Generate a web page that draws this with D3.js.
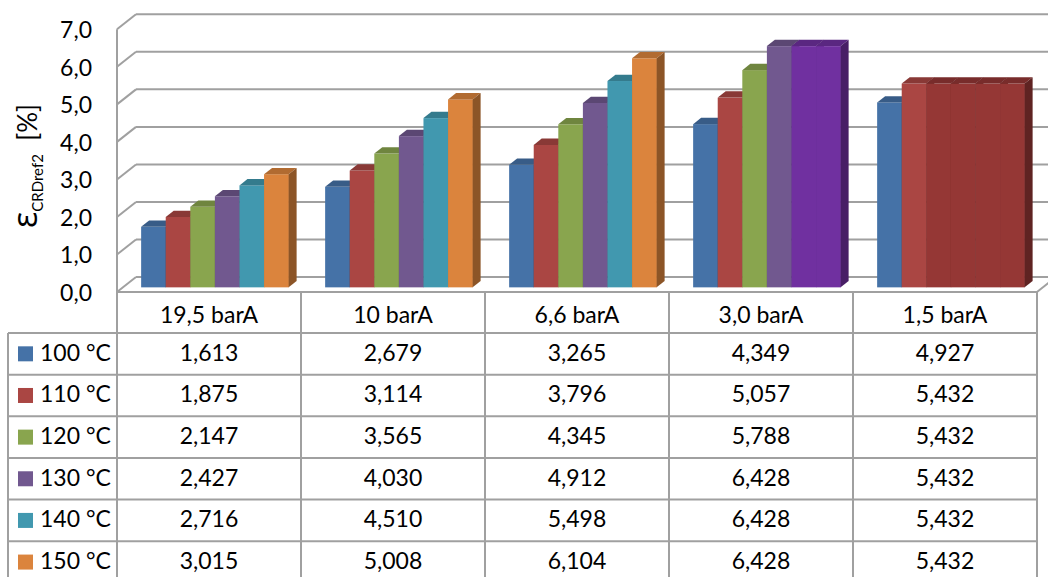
<!DOCTYPE html>
<html>
<head>
<meta charset="utf-8">
<script src="https://cdn.jsdelivr.net/npm/d3@7"></script>
<style>
  html, body { margin: 0; padding: 0; background: #fff; }
  svg { display: block; }
  text { font-family: Lato, "Open Sans", sans-serif; fill: #000; }
</style>
</head>
<body>
<svg id="chart" width="1048" height="577"></svg>
<script>
// Pressure levels (categories) and temperature series
const categories = ["19,5 barA", "10 barA", "6,6 barA", "3,0 barA", "1,5 barA"];
const seriesNames = ["100 °C", "110 °C", "120 °C", "130 °C", "140 °C", "150 °C"];

const v100 = [1.613, 2.679, 3.265, 4.349, 4.927];
const v110 = [1.875, 3.114, 3.796, 5.057, 5.432];
const v120 = [2.147, 3.565, 4.345, 5.788, 5.432];
const v130 = [2.427, 4.030, 4.912, 6.428, 5.432];
const v140 = [2.716, 4.510, 5.498, 6.428, 5.432];
const v150 = [3.015, 5.008, 6.104, 6.428, 5.432];
const seriesValues = [v100, v110, v120, v130, v140, v150];

const seriesColors = ["#4572A7", "#AA4643", "#89A54E", "#71588F", "#4198AF", "#DB843D"];
// individually recoloured points: [category, series, colour]
const pointColors = [
  ["3,0 barA", "140 °C", "#7030A0"],
  ["3,0 barA", "150 °C", "#7030A0"],
  ["1,5 barA", "120 °C", "#953735"],
  ["1,5 barA", "130 °C", "#953735"],
  ["1,5 barA", "140 °C", "#953735"],
  ["1,5 barA", "150 °C", "#953735"]
];

const yTicks = [0, 1, 2, 3, 4, 5, 6, 7];
const fmt = d3.format(".1f");
const fmt3 = d3.format(".3f");
const comma = s => s.replace(".", ",");

const svg = d3.select("#chart");

// front plane of the 3D box
const x = d3.scaleBand().domain(categories).range([117, 1037]);
const y = d3.scaleLinear().domain([0, 7]).range([292, 29.3]);
const inner = d3.scaleBand().domain(seriesNames)
  .range([18.25, x.bandwidth() - 18.25]);

// depth vector of the box and of the bars
const DX = 19, DY = -15;
const f0 = 0.31, f1 = 0.73;

const gridColor = "#A0A0A0";
const grid = svg.append("g").attr("stroke", gridColor).attr("stroke-width", 2).attr("fill", "none");

// back wall gridlines
grid.selectAll("line.back").data(yTicks).join("line")
  .attr("x1", x.range()[0] + DX).attr("x2", x.range()[1] + DX)
  .attr("y1", d => y(d) + DY).attr("y2", d => y(d) + DY);
// side wall diagonals
grid.selectAll("line.side").data(yTicks).join("line")
  .attr("x1", x.range()[0]).attr("x2", x.range()[0] + DX)
  .attr("y1", d => y(d)).attr("y2", d => y(d) + DY);
// side wall front edge
grid.append("line")
  .attr("x1", x.range()[0]).attr("x2", x.range()[0])
  .attr("y1", y(7)).attr("y2", y(0));
// floor front edge and right edge
grid.append("line")
  .attr("x1", x.range()[0]).attr("x2", x.range()[1])
  .attr("y1", y(0)).attr("y2", y(0));
grid.append("line")
  .attr("x1", x.range()[1]).attr("x2", x.range()[1] + DX)
  .attr("y1", y(0)).attr("y2", y(0) + DY);

// y-axis tick labels
svg.append("g").selectAll("text").data(yTicks).join("text")
  .attr("x", 92).attr("y", d => y(d) + 3)
  .attr("text-anchor", "end").attr("dominant-baseline", "middle")
  .attr("font-size", 23)
  .text(d => comma(fmt(d)));

// y-axis title
const title = svg.append("text")
  .attr("transform", "translate(37,166) rotate(-90)")
  .attr("text-anchor", "middle");
title.append("tspan").attr("font-size", 34)
  .style("font-family", "'Open Sans', sans-serif").text("ε");
title.append("tspan").attr("font-size", 15).attr("dy", 6).text("CRDref2");
title.append("tspan").attr("font-size", 26).attr("dy", -6).text("\u00a0\u00a0[%]");

// bars
const bars = [];
categories.forEach((c, ci) => {
  seriesNames.forEach((s, si) => {
    const over = pointColors.find(p => p[0] === c && p[1] === s);
    bars.push({ c, s, v: seriesValues[si][ci], color: over ? over[2] : seriesColors[si] });
  });
});

const ddx = DX * (f1 - f0), ddy = DY * (f1 - f0);
const barG = svg.append("g");
bars.forEach(b => {
  const x0 = x(b.c) + inner(b.s) + DX * f0;
  const x1 = x0 + inner.bandwidth();
  const yT = y(b.v) + DY * f0;
  const yB = y(0) + DY * f0;
  const base = d3.color(b.color);
  const g = barG.append("g");
  g.append("rect").attr("x", x0).attr("y", yT)
    .attr("width", x1 - x0 + 0.3).attr("height", yB - yT)
    .attr("fill", base.formatHex());
  g.append("polygon")
    .attr("points", [[x0, yT], [x1, yT], [x1 + ddx, yT + ddy], [x0 + ddx, yT + ddy]].join(" "))
    .attr("fill", base.darker(0.6).formatHex());
  g.append("polygon")
    .attr("points", [[x1, yT], [x1 + ddx, yT + ddy], [x1 + ddx, yB + ddy], [x1, yB]].join(" "))
    .attr("fill", base.darker(1.25).formatHex());
});

// data table
const rowH = 41.65;
const headerTop = y(0), headerBot = 333;
const rowY = i => headerBot + i * rowH;
const legendLeft = 8;
const tbl = svg.append("g").attr("stroke", gridColor).attr("stroke-width", 2);

// header row borders
tbl.append("line").attr("x1", x.range()[0]).attr("x2", x.range()[1])
  .attr("y1", headerTop).attr("y2", headerTop);
// row separators
tbl.selectAll("line.row").data(d3.range(seriesNames.length + 1)).join("line")
  .attr("x1", legendLeft).attr("x2", x.range()[1])
  .attr("y1", d => rowY(d)).attr("y2", d => rowY(d));
// column separators
tbl.selectAll("line.col").data(categories.concat(["end"])).join("line")
  .attr("x1", d => d === "end" ? x.range()[1] : x(d))
  .attr("x2", d => d === "end" ? x.range()[1] : x(d))
  .attr("y1", headerTop).attr("y2", 577);
// legend column left edge
tbl.append("line").attr("x1", legendLeft).attr("x2", legendLeft)
  .attr("y1", headerBot).attr("y2", 577);

// header labels
svg.append("g").selectAll("text").data(categories).join("text")
  .attr("x", d => x(d) + x.bandwidth() / 2)
  .attr("y", (headerTop + headerBot) / 2 + 5)
  .attr("text-anchor", "middle").attr("dominant-baseline", "middle")
  .attr("font-size", 23)
  .text(d => d);

// legend keys and names
const leg = svg.append("g");
seriesNames.forEach((s, si) => {
  const cy = rowY(si) + rowH / 2;
  leg.append("rect").attr("x", 18).attr("y", cy - 7.5)
    .attr("width", 15).attr("height", 15).attr("fill", seriesColors[si]);
  leg.append("text").attr("x", 40).attr("y", cy + 1)
    .attr("dominant-baseline", "middle").attr("font-size", 23).text(s);
  categories.forEach((c, ci) => {
    leg.append("text")
      .attr("x", x(c) + x.bandwidth() / 2).attr("y", cy + 1)
      .attr("text-anchor", "middle").attr("dominant-baseline", "middle")
      .attr("font-size", 23)
      .text(comma(fmt3(seriesValues[si][ci])));
  });
});
</script>
</body>
</html>
